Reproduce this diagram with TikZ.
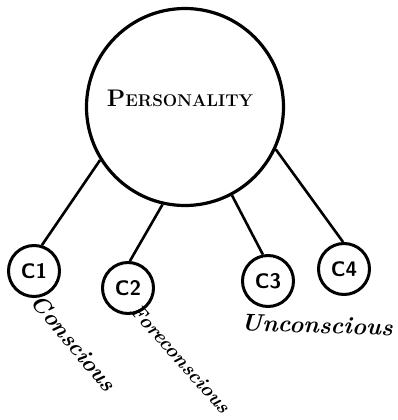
\documentclass[tikz,border=0pt]{standalone}
\usepackage{tikz}
\usetikzlibrary{positioning}

\tikzset{
  bigcirc/.style={circle, draw, line width=3.2pt, minimum size=197pt, inner sep=0pt},
  smallcirc/.style={circle, draw, line width=3pt, minimum size=51pt, inner sep=0pt,
    font=\fontsize{21}{23}\selectfont\bfseries\sffamily},
  link/.style={line width=2.6pt},
  hand/.style={font=\fontsize{23}{25}\selectfont\bfseries\itshape, inner sep=0pt}
}

\begin{document}
\begin{tikzpicture}[x=1pt, y=-1pt]
    \useasboundingbox (0,0) rectangle (397,420);

    % the whole and its parts
    \node[bigcirc] (personality) at (185,107) {};
    \node[font=\bfseries] (pname) at (180,98)
      {\fontsize{24}{26}\selectfont P\fontsize{17}{19}\selectfont ERSONALITY};

    \node[smallcirc] (c1) at (34,271) {C1};
    \node[smallcirc] (c2) at (128,288) {C2};
    \node[smallcirc] (c3) at (268,281) {C3};
    \node[smallcirc] (c4) at (344,269) {C4};

    \draw[link] (personality.212) -- (c1.73);
    \draw[link] (personality.257) -- (c2.86);
    \draw[link] (personality.298) -- (c3.101);
    \draw[link] (personality.335) -- (c4.92);

    % labels under the circles
    \node[hand, rotate=-50] (conscious) at (74,343) {Conscious};
    \node[hand, rotate=-48, font=\fontsize{20}{22}\selectfont\bfseries\itshape] (foreconscious) at (181,359) {Foreconscious};
    \node[hand, rotate=-2, font=\fontsize{24}{26}\selectfont\bfseries\itshape] (unconscious) at (317,325) {Unconscious};
  \end{tikzpicture}
\end{document}
